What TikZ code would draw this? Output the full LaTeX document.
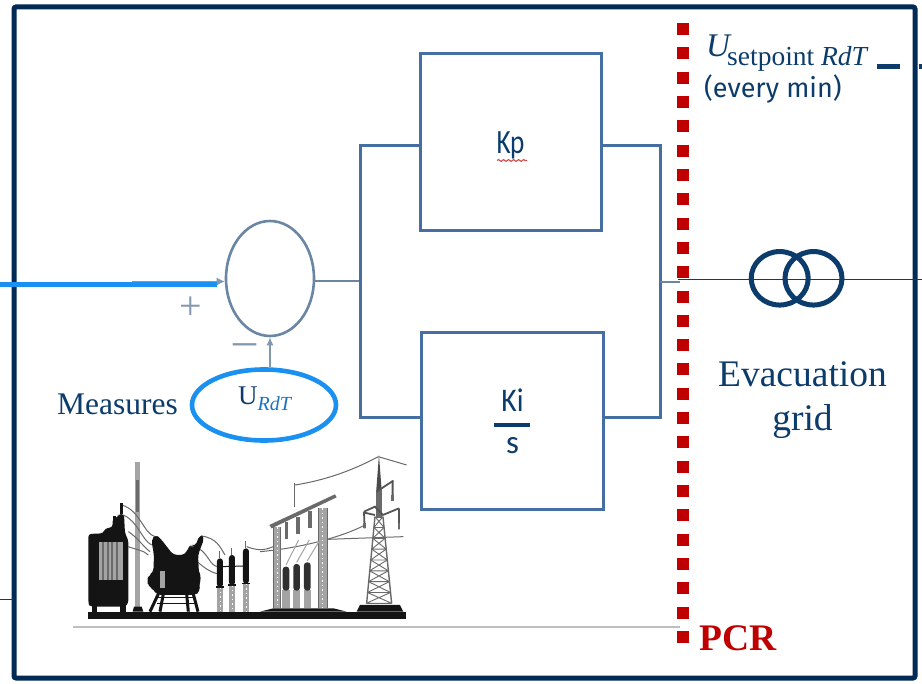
\documentclass[tikz,border=0pt]{standalone}
\usepackage{fontspec}
\usepackage{graphicx}
\setmainfont{Liberation Serif}
\newfontfamily\sansf{Fira Sans}
\newfontfamily\lblf{Carlito}
\usetikzlibrary{shapes.geometric,arrows.meta,decorations.pathmorphing}
\definecolor{frameC}{HTML}{012A55}
\definecolor{textC}{HTML}{0B3C6B}
\definecolor{boxC}{HTML}{456FA3}
\definecolor{wireC}{HTML}{6A86A3}
\definecolor{signC}{HTML}{8198AF}
\definecolor{brightC}{HTML}{1A90F0}
\definecolor{subC}{HTML}{1B72BE}
\definecolor{redC}{HTML}{C00000}
\definecolor{grayC}{HTML}{A4A4A4}
\definecolor{midC}{HTML}{6A6A6A}
\definecolor{inkC}{HTML}{141414}
\tikzset{
  blockbox/.style={draw=boxC,line width=3pt,fill=white,minimum width=181pt,minimum height=177pt,inner sep=0pt},
  wire/.style={draw=boxC,line width=3pt},
  thinwire/.style={draw=wireC,line width=1.2pt},
  sumnode/.style={ellipse,draw=wireC,line width=2.6pt,minimum width=88pt,minimum height=115pt,inner sep=0pt},
  txt/.style={text=textC,inner sep=0pt},
  cable/.style={draw=midC,line width=1pt},
  ringnode/.style={ellipse,draw=textC,line width=5pt,minimum width=57pt,minimum height=53.5pt,inner sep=0pt}
}
\begin{document}
\begin{tikzpicture}[x=1pt,y=-1pt]
\useasboundingbox (0,0) rectangle (922,684);
\fill[white] (0,0) rectangle (922,684);
% frame
\draw[frameC,line width=5pt,rounded corners=2pt] (14,7) rectangle (915,678);
% blocks
\node[blockbox] (kp) at (510.5,142.5) {};
\node[blockbox,minimum width=182pt] (ki) at (512,421.5) {};
\node[sumnode] (sum) at (270,278.5) {};
\coordinate (jl) at (360,281);
\coordinate (jr) at (660,282);
\coordinate (jlt) at (360,146);
\coordinate (jlb) at (360,418);
\coordinate (jrt) at (660,146);
\coordinate (jrb) at (660,418);
\coordinate (pcrw) at (680,282);
\draw[thinwire] (sum.east |- jl) -- (jl);
\draw[wire] (kp.west |- jlt) -- (jlt) -- (jlb) -- (ki.west |- jlb);
\draw[wire] (kp.east |- jrt) -- (jrt) -- (jrb) -- (ki.east |- jrb);
\draw[thinwire] (jr) -- (pcrw);
% block labels
\node[inner sep=0pt,text=textC,font=\lblf\fontsize{34}{34}\selectfont,anchor=base] (kplbl) at (510.5,154) {\scalebox{.8}[1]{Kp}};
\draw[redC!70!white,line width=1.1pt,decorate,decoration={snake,amplitude=.9pt,segment length=5pt}] (497,160.5) -- (527,160.5);
\node[inner sep=0pt,text=textC,font=\lblf\fontsize{33}{33}\selectfont,anchor=base] (kilbl) at (512.5,412) {\scalebox{.9}[1]{Ki}};
\draw[textC,line width=3.4pt] (494,425) -- (530,425);
\node[inner sep=0pt,text=textC,font=\lblf\fontsize{33}{33}\selectfont,anchor=base] (slbl) at (512.5,454) {s};
% input
\coordinate (inL) at (0,284.5);
\coordinate (inB) at (217,284.5);
\coordinate (inG) at (132,281.5);
\draw[signC,line width=1.1pt,-{Latex[length=8pt,width=8pt]}] (inG) -- (sum.west |- inG);
\draw[brightC,line width=4.3pt] (inL) -- (inB);
\node[inner sep=0pt,text=signC,font=\fontsize{40}{40}\selectfont] (plus) at (191,308) {+};
\node[inner sep=0pt,text=signC,font=\fontsize{46}{46}\selectfont] (minus) at (245,350) {\textendash};
% measures
\node[ellipse,draw=brightC,line width=4.6pt,minimum width=144pt,minimum height=71pt,inner sep=0pt] (urdt) at (264,405) {};
\node[txt,font=\fontsize{27}{27}\selectfont,anchor=base west] (ulbl) at (238,405) {U\raisebox{-6pt}{\fontsize{20}{20}\selectfont\itshape\textcolor{subC}{RdT}}};
\draw[signC,line width=1.2pt,-{Latex[length=8pt,width=7pt]}] (urdt.north -| sum.south) -- (sum.south);
\node[txt,font=\fontsize{31.5}{31.5}\selectfont] (meas) at (117.5,404) {Measures};
% ground line
\coordinate (g1) at (73,627);\coordinate (g2) at (680,627);
\draw[grayC!70!white,line width=2pt] (g1) -- (g2);
% PCR
\coordinate (redT) at (682.5,23);
\coordinate (redB) at (682.5,643);
\draw[redC,line width=12pt,dash pattern=on 12pt off 12.32pt] (redT) -- (redB);
\node[inner sep=0pt,text=redC,font=\bfseries\fontsize{37.5}{37.5}\selectfont,anchor=base west] (pcr) at (699,650) {PCR};
% evacuation side
\coordinate (rightE) at (922,279.5);
\coordinate (pcrE) at (678,279.5);
\draw[textC,line width=1.8pt] (pcrE) -- (rightE);
\node[ringnode] (r1) at (779.7,278.3) {};
\node[ringnode] (r2) at (813.5,278.3) {};
\node[txt,font=\fontsize{37.5}{44}\selectfont,align=center] (evac) at (802.5,400) {Evacuation\\grid};
% setpoint
\node[txt,font=\fontsize{33}{33}\selectfont\itshape,anchor=base west] (upt) at (706,57) {U};
\node[txt,font=\fontsize{27.5}{27.5}\selectfont,anchor=base west] (usub) at (727,65.5) {setpoint {\itshape RdT}};
\node[txt,font=\sansf\fontsize{27}{27}\selectfont,anchor=base west] (every) at (704,98) {(every min)};
\coordinate (d1) at (877,67);\coordinate (d2) at (900,67);
\coordinate (d3) at (919,67);\coordinate (d4) at (922,67);
\draw[textC,line width=5pt] (d1) -- (d2);
\draw[textC,line width=5pt] (d3) -- (d4);
% thin left lead
\coordinate (lead) at (0,600);\coordinate (leadE) at (14,600);
\draw[textC,line width=1pt] (lead) -- (leadE);
% substation, in coordinates 3x the picture's
\begin{scope}[shift={(60,440)},x=.3333pt,y=-.3333pt]
 % mast
 \fill[grayC] (226,65) rectangle (240,505);
 \fill[midC] (229,120) rectangle (238,215);
 % cables behind
 \draw[cable] (185,195) .. controls (240,210) and (250,280) .. (285,290);
 \draw[cable] (190,225) .. controls (235,245) and (245,300) .. (275,315);
 \draw[cable] (205,275) .. controls (230,290) and (250,320) .. (270,335);
 \draw[cable] (205,320) .. controls (230,330) and (250,330) .. (265,345);
 \draw[cable] (425,288) .. controls (470,295) and (480,320) .. (495,345);
 \draw[cable] (415,325) .. controls (445,340) and (450,380) .. (475,380);
 \draw[cable] (405,360) .. controls (430,380) and (445,395) .. (475,402);
 \draw[cable] (560,320) .. controls (600,335) and (620,330) .. (650,315);
 \draw[cable] (600,335) .. controls (720,325) and (850,290) .. (915,255);
 \draw[cable] (805,298) -- (1030,290);
 \draw[cable] (705,135) .. controls (800,120) and (880,90) .. (955,50);
 \draw[cable] (955,50) -- (1040,75);
 % ground
 \fill[inkC] (85,515) rectangle (1038,538);
 \fill[inkC] (600,515) -- (640,505) -- (820,505) -- (860,515) -- cycle;
 \fill[inkC] (890,515) -- (900,495) -- (1020,495) -- (1030,515) -- cycle;
 \fill[inkC] (218,515) -- (222,500) -- (245,500) -- (250,515) -- cycle;
 % first transformer
 \fill[inkC,rounded corners=3pt] (85,282) -- (130,280) -- (135,265) -- (158,262) -- (158,235) -- (175,232) -- (175,222) -- (192,222) -- (195,280) -- (205,300) -- (205,490) -- (195,500) -- (90,500) -- (85,490) -- cycle;
 \fill[inkC] (180,188) rectangle (190,222);
 \fill[inkC] (160,228) rectangle (168,240);
 \fill[grayC] (118,305) rectangle (188,420);
 \foreach \sx in {126,140,154,168}{\fill[midC] (\sx,305) rectangle (\sx+6,420);}
 \fill[inkC] (95,495) rectangle (112,515);
 \fill[inkC] (180,495) rectangle (197,515);
 % second transformer
 \fill[inkC,rounded corners=4pt] (274,300) -- (287,283) -- (302,296) -- (340,345) -- (375,345) -- (385,322) -- (395,315) -- (405,320) -- (420,283) -- (434,292) -- (414,345) -- (420,455) -- (405,465) -- (290,465) -- (283,450) -- (266,440) -- (260,420) -- (268,405) -- (280,398) -- (282,345) -- cycle;
 \fill[grayC] (300,392) rectangle (315,445);
 \draw[inkC,line width=1.8pt] (405,415) ellipse (14 and 28);
 \draw[inkC,line width=3pt] (295,462) -- (270,515) (310,462) -- (300,515) (380,462) -- (385,515) (400,462) -- (414,515);
 \draw[inkC,line width=1.4pt] (285,472) -- (405,472) (290,490) -- (405,490);
 % three columns
 \foreach \cx/\ct/\cb in {480/355/442,516/345/436,558/325/431}{
   \fill[grayC] (\cx-10,\cb) rectangle (\cx+10,515);
   \draw[white,line width=.8pt,dash pattern=on 1.5pt off 3pt] (\cx,\cb) -- (\cx,515);
   \fill[inkC,rounded corners=3pt] (\cx-9,\ct) rectangle (\cx+9,\cb);
   \fill[inkC] (\cx-12,\cb-3) rectangle (\cx+12,\cb+2);
   \draw[midC,line width=1pt] (\cx,\ct-22) -- (\cx,\ct);
 }
 \draw[inkC,line width=1pt] (480,380) -- (558,378);
 % gantry
 \fill[grayC] (640,262) rectangle (662,505);
 \fill[grayC] (775,205) rectangle (803,505);
 \draw[white,line width=.8pt,dash pattern=on 1.5pt off 3pt] (651,262) -- (651,505);
 \draw[white,line width=1pt,dash pattern=on 1.5pt off 3pt] (789,205) -- (789,505);
 \draw[midC,line width=.8pt] (640,262) -- (640,505) (662,262) -- (662,505) (775,205) -- (775,505) (803,205) -- (803,505);
 \fill[midC] (628,255) -- (825,163) -- (830,172) -- (635,265) -- cycle;
 \foreach \hx/\hy in {680/245,714/230,750/212}{\fill[midC] (\hx-5,\hy) rectangle (\hx+5,\hy+52);}
 \draw[midC,line width=1pt] (705,130) -- (705,200);
 \foreach \cx/\ct in {678/375,710/367,742/362}{
   \draw[grayC,line width=1pt] (\cx,\ct) -- (\cx+38,300);
   \fill[grayC] (\cx-11,450) rectangle (\cx+11,505);
   \fill[inkC!88!white,rounded corners=3pt] (\cx-10,\ct+5) rectangle (\cx+10,452);
 }
 % tower
 \draw[midC,line width=1.4pt] (945,230) -- (920,490) (969,230) -- (995,490);
 \foreach \lev in {0,...,7}{
   \pgfmathsetmacro{\yy}{230+\lev*32.5}
   \pgfmathsetmacro{\yz}{\yy+32.5}
   \pgfmathsetmacro{\wa}{12+\lev*3.25}
   \pgfmathsetmacro{\wb}{\wa+3.25}
   \draw[midC,line width=.9pt] (957-\wa,\yy) -- (957+\wb,\yz) (957+\wa,\yy) -- (957-\wb,\yz) (957-\wb,\yz) -- (957+\wb,\yz);
 }
 \fill[midC!70!black] (949,150) -- (957,45) -- (965,150) -- cycle;
 \fill[midC] (948,150) rectangle (966,235);
 \draw[midC!80!black,line width=1.8pt] (950,155) -- (1000,122) (912,215) -- (945,200) -- (969,225) -- (1017,205) (913,218) -- (945,225);
 \draw[midC!80!black,line width=1.8pt] (998,122) -- (998,182) (912,215) -- (914,265) (1017,205) -- (1017,268);
 \fill[midC] (910,250) rectangle (918,265);
 \fill[midC] (1013,250) rectangle (1021,268);
 \fill[midC] (994,165) rectangle (1002,182);
\end{scope}
\end{tikzpicture}
\end{document}
